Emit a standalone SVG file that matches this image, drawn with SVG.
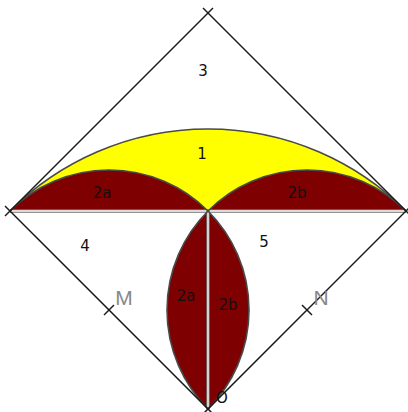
<svg xmlns="http://www.w3.org/2000/svg" width="408" height="412" viewBox="0 0 408 412">
<style>
.red{fill:#7f0000;}
.yel{fill:#ffff00;}
.arc{fill:none;stroke:#4a4a4a;stroke-width:1.6;}
.side{stroke:#1a1a1a;stroke-width:1.5;fill:none;}
.dbl{stroke:#6e6e6e;stroke-width:3.6;fill:none;}
.dblin{stroke:#ffffff;stroke-width:1.4;fill:none;}
.lbl{font-family:"DejaVu Sans",sans-serif;font-size:15px;fill:#111;text-anchor:middle;}
.pt{font-family:"Liberation Sans",sans-serif;font-size:21px;fill:#888;text-anchor:middle;}
</style>
<rect width="408" height="412" fill="#ffffff"/>
<g id="region1">
<path class="yel" d="M10,211 A280,280 0 0,1 406,211 A140,140 0 0,0 208,211 A140,140 0 0,0 10,211 Z"/>
</g>
<g id="region2a-top">
<path class="red" d="M10,211 A140,140 0 0,1 208,211 Z"/>
</g>
<g id="region2b-top">
<path class="red" d="M208,211 A140,140 0 0,1 406,211 Z"/>
</g>
<g id="region2a-lens">
<path class="red" d="M208,211 A140,140 0 0,0 208,409 Z"/>
</g>
<g id="region2b-lens">
<path class="red" d="M208,211 A140,140 0 0,1 208,409 Z"/>
</g>
<g id="connectors">
<line class="dbl" x1="10" y1="211" x2="406" y2="211"/>
<line class="dblin" x1="10" y1="211" x2="406" y2="211"/>
<line class="dbl" x1="208" y1="211" x2="208" y2="409"/>
<line class="dblin" x1="208" y1="211" x2="208" y2="409"/>
<path class="arc" d="M10,211 A280,280 0 0,1 406,211"/>
<path class="arc" d="M10,211 A140,140 0 0,1 208,211 A140,140 0 0,1 406,211"/>
<path class="arc" d="M208,211 A140,140 0 0,0 208,409 M208,211 A140,140 0 0,1 208,409"/>
<line class="side" x1="5" y1="216" x2="213" y2="8"/>
<line class="side" x1="203" y1="8" x2="411" y2="216"/>
<line class="side" x1="5" y1="206" x2="213" y2="414"/>
<line class="side" x1="411" y1="206" x2="203" y2="414"/>
<line class="side" x1="104" y1="315" x2="114" y2="305"/>
<line class="side" x1="302" y1="305" x2="312" y2="315"/>
</g>
<g id="labels">
<text class="lbl" x="203" y="76">3</text>
<text class="lbl" x="202" y="159">1</text>
<text class="lbl" x="102" y="198">2a</text>
<text class="lbl" x="297" y="198">2b</text>
<text class="lbl" x="85" y="251">4</text>
<text class="lbl" x="264" y="247">5</text>
<text class="lbl" x="186" y="301">2a</text>
<text class="lbl" x="228" y="310">2b</text>
<text class="pt" x="124" y="305">M</text>
<text class="pt" x="321" y="305">N</text>
<text class="lbl" x="222" y="403" font-size="17">O</text>
</g>
</svg>
